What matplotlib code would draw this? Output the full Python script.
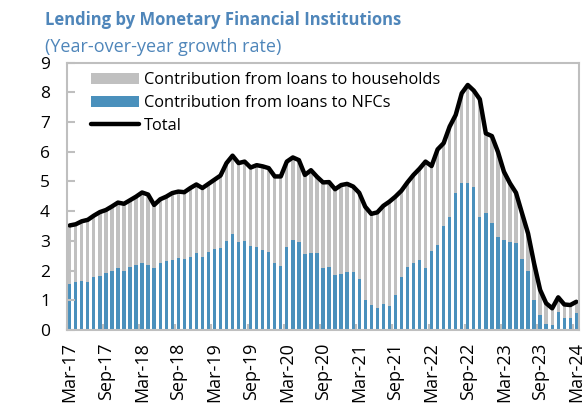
import matplotlib.pyplot as plt
import numpy as np
import pandas as pd

plt.rcParams['font.family'] = ['Open Sans', 'DejaVu Sans']

# Monthly data, Mar-17 .. Mar-24
months = pd.date_range('2017-03-01', '2024-03-01', freq='MS')

total = [3.52, 3.56, 3.66, 3.71, 3.85, 3.97, 4.04, 4.16, 4.29, 4.25,
         4.37, 4.49, 4.63, 4.56, 4.21, 4.40, 4.49, 4.61, 4.66, 4.64,
         4.78, 4.90, 4.78, 4.92, 5.06, 5.20, 5.62, 5.87, 5.62, 5.67,
         5.47, 5.55, 5.51, 5.45, 5.17, 5.17, 5.67, 5.81, 5.72, 5.22,
         5.38, 5.16, 4.97, 4.98, 4.74, 4.88, 4.92, 4.83, 4.62, 4.15,
         3.91, 3.96, 4.18, 4.32, 4.49, 4.69, 4.97, 5.22, 5.43, 5.67,
         5.52, 6.08, 6.29, 6.85, 7.24, 7.97, 8.25, 8.06, 7.77, 6.62,
         6.53, 6.00, 5.33, 4.94, 4.62, 3.93, 3.25, 2.24, 1.35, 0.90,
         0.73, 1.10, 0.86, 0.84, 0.95]

nfc = [1.55, 1.60, 1.65, 1.62, 1.79, 1.83, 1.92, 1.99, 2.09, 2.00,
       2.12, 2.18, 2.25, 2.19, 2.09, 2.27, 2.31, 2.36, 2.43, 2.39,
       2.46, 2.58, 2.47, 2.62, 2.73, 2.76, 3.00, 3.22, 2.96, 3.01,
       2.82, 2.79, 2.70, 2.62, 2.26, 2.17, 2.80, 3.02, 2.96, 2.56,
       2.60, 2.58, 2.08, 2.11, 1.85, 1.87, 1.95, 1.95, 1.72, 1.01,
       0.84, 0.73, 0.86, 0.81, 1.18, 1.80, 2.13, 2.27, 2.36, 2.09,
       2.67, 2.86, 3.50, 3.82, 4.60, 4.96, 4.94, 4.80, 3.82, 3.93,
       3.59, 3.14, 3.03, 2.97, 2.94, 2.38, 2.00, 1.00, 0.50, 0.20,
       0.18, 0.62, 0.42, 0.42, 0.57]

households = [1.97, 1.96, 2.01, 2.09, 2.06, 2.14, 2.12, 2.17, 2.20, 2.25,
              2.25, 2.31, 2.38, 2.37, 2.12, 2.13, 2.18, 2.25, 2.23, 2.25,
              2.32, 2.32, 2.31, 2.30, 2.33, 2.44, 2.62, 2.65, 2.66, 2.66,
              2.65, 2.76, 2.81, 2.83, 2.91, 3.00, 2.87, 2.79, 2.76, 2.66,
              2.78, 2.58, 2.89, 2.87, 2.89, 3.01, 2.97, 2.88, 2.90, 3.14,
              3.07, 3.23, 3.32, 3.51, 3.31, 2.89, 2.84, 2.95, 3.07, 3.58,
              2.85, 3.22, 2.79, 3.03, 2.64, 3.01, 3.31, 3.26, 3.95, 2.69,
              2.94, 2.86, 2.30, 1.97, 1.68, 1.55, 1.25, 1.24, 0.85, 0.70,
              0.55, 0.48, 0.44, 0.42, 0.38]

tick_labels = ['Mar-17', 'Sep-17', 'Mar-18', 'Sep-18', 'Mar-19', 'Sep-19',
               'Mar-20', 'Sep-20', 'Mar-21', 'Sep-21', 'Mar-22', 'Sep-22',
               'Mar-23', 'Sep-23', 'Mar-24']

blue = '#4A90BC'
grey = '#C0C0C0'
frame = '#BFBFBF'
title_col = '#4F86BA'

fig = plt.figure(figsize=(5.84, 4.04), dpi=100)
ax = fig.add_axes([0.1142, 0.1832, 0.8778, 0.6616])

x = np.arange(len(months))
b_nfc = ax.bar(x, nfc, width=0.55, color=blue, label='Contribution from loans to NFCs')
b_hh = ax.bar(x, households, width=0.55, bottom=nfc, color=grey,
              label='Contribution from loans to households')
ln, = ax.plot(x, total, color='black', lw=3.2, label='Total',
              solid_joinstyle='round', solid_capstyle='round')

ax.set_xlim(-0.5, len(months) - 0.5)
ax.set_ylim(0, 9)
ax.set_yticks(range(10))
ax.set_xticks(x[::6])
ax.set_xticklabels(tick_labels, rotation=90)
ax.set_xticks(np.arange(-0.5, len(months), 6), minor=True)

ax.tick_params(axis='y', direction='in', length=6, width=1.5, color=frame,
               labelsize=12.5, pad=12)
ax.tick_params(axis='x', which='major', length=0, labelsize=13, pad=9)
ax.tick_params(axis='x', which='minor', direction='in', length=4, width=1.5, color=frame)
for s in ax.spines.values():
    s.set_color(frame)
    s.set_linewidth(1.5)

ax.legend([b_hh, b_nfc, ln],
          ['Contribution from loans to households', 'Contribution from loans to NFCs', 'Total'],
          loc='upper left', bbox_to_anchor=(0.035, 0.99), frameon=False,
          fontsize=11.8, handlelength=2.9, handleheight=0.65,
          labelspacing=0.42, handletextpad=0.3, borderaxespad=0)

fig.text(0.077, 0.95, 'Lending by Monetary Financial Institutions', color=title_col,
         fontsize=12, fontweight='bold', va='center', ha='left')
fig.text(0.077, 0.884, '(Year-over-year growth rate)', color=title_col,
         fontsize=13, va='center', ha='left')

fig.savefig('out.png', dpi=100)
